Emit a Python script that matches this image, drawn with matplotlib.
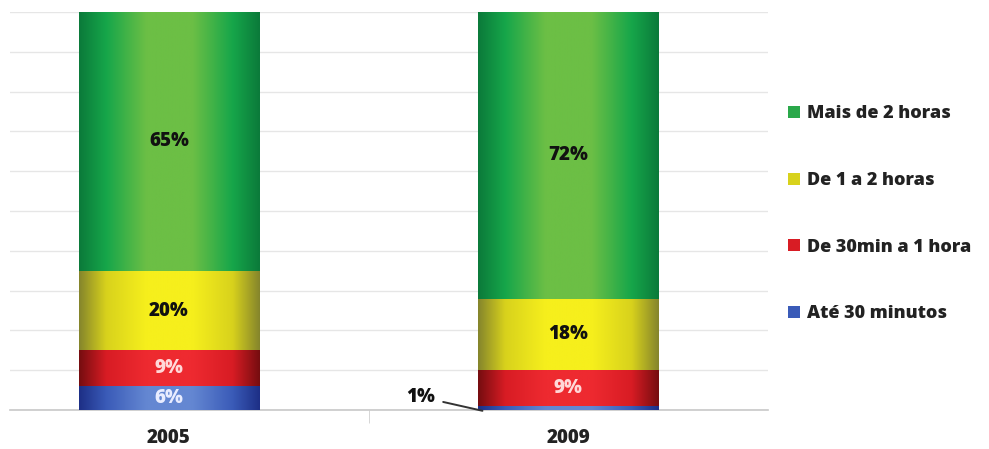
import matplotlib
matplotlib.use('Agg')
import matplotlib.pyplot as plt
import numpy as np
from matplotlib.colors import LinearSegmentedColormap
from matplotlib.patches import Patch

plt.rcParams['font.family'] = ['Open Sans', 'DejaVu Sans']

# data
anos = ['2005', '2009']
categorias = ['Até 30 minutos', 'De 30min a 1 hora', 'De 1 a 2 horas', 'Mais de 2 horas']
ate30 = [6, 1]
de30a1 = [9, 9]
de1a2 = [20, 18]
mais2 = [65, 72]
series = [ate30, de30a1, de1a2, mais2]

# cylinder-ish shading: edge, mid, center
cores = [
    ['#1d2f86', '#3a5bb8', '#6487d2'],
    ['#760d10', '#d81c24', '#ee2a30'],
    ['#85852c', '#d8d21c', '#f6ef1c'],
    ['#0b7a3a', '#16a64a', '#6cbf45'],
]
cor_legenda = ['#3a5bb8', '#d81c24', '#d8d21c', '#2aa84a']
cor_texto = ['#e8ecff', '#ffd8d8', '#111111', '#111111']

fig = plt.figure(figsize=(9.89, 4.49), dpi=100)
ax = fig.add_axes([10/989, 39/449, 758/989, 398/449])

x = np.arange(len(anos))
grad = np.concatenate([np.linspace(0, 1, 128), np.linspace(1, 0, 128)]).reshape(1, -1)

bottom = np.zeros(len(anos))
for vals, c, tc in zip(series, cores, cor_texto):
    cmap = LinearSegmentedColormap.from_list('g', [(0, c[0]), (0.3, c[1]), (0.75, c[2]), (1, c[2])])
    bars = ax.bar(x, vals, width=0.451, bottom=bottom, color='none', edgecolor='none', zorder=3)
    for b, v in zip(bars, vals):
        x0, y0 = b.get_x(), b.get_y()
        im = ax.imshow(grad, cmap=cmap, aspect='auto', zorder=3,
                       extent=[x0, x0 + b.get_width(), y0, y0 + b.get_height()])
        im.set_clip_path(b)
        if v >= 5:
            ax.text(x0 + b.get_width()/2, y0 + v/2, f'{v}%', ha='center', va='center',
                    fontsize=13.5, fontweight='heavy', color=tc, zorder=5)
    bottom += np.array(vals)

# 1% label with leader line
ax.annotate(f'{ate30[1]}%', xy=(x[1] - 0.215, -0.2), xytext=(x[1] - 0.37, 3.3),
            fontsize=13.5, fontweight='heavy', color='#111111', ha='center', va='center',
            annotation_clip=False,
            arrowprops=dict(arrowstyle='-', color='#333333', lw=1.4,
                            shrinkA=4, shrinkB=0), zorder=6)

ax.set_xlim(-0.398, 1.5)
ax.set_ylim(0, 100)
ax.set_yticks(np.arange(0, 101, 10))
ax.yaxis.grid(True, color='#e6e6e6', lw=1)
ax.set_axisbelow(True)
ax.tick_params(axis='y', length=0, labelleft=False)
ax.set_xticks(x)
ax.set_xticklabels(anos, fontsize=13.5, fontweight='heavy', color='#222222')
ax.tick_params(axis='x', length=0, pad=13)
ax.set_xticks([0.5], minor=True)
ax.tick_params(axis='x', which='minor', length=9, color='#d0d0d0')
for s in ['top', 'right', 'left']:
    ax.spines[s].set_visible(False)
ax.spines['bottom'].set_color('#c8c8c8')
ax.spines['bottom'].set_linewidth(1.2)

handles = [Patch(facecolor=c, edgecolor='none') for c in cor_legenda][::-1]
leg = fig.legend(handles, categorias[::-1], loc='upper left', bbox_to_anchor=(772/989, 1 - 89/449),
                 frameon=False, handlelength=0.65, handleheight=0.65, handletextpad=0.4,
                 labelspacing=2.75, prop={'size': 13, 'weight': 'heavy'})
for t in leg.get_texts():
    t.set_color('#222222')

fig.savefig('out.png', dpi=100)
